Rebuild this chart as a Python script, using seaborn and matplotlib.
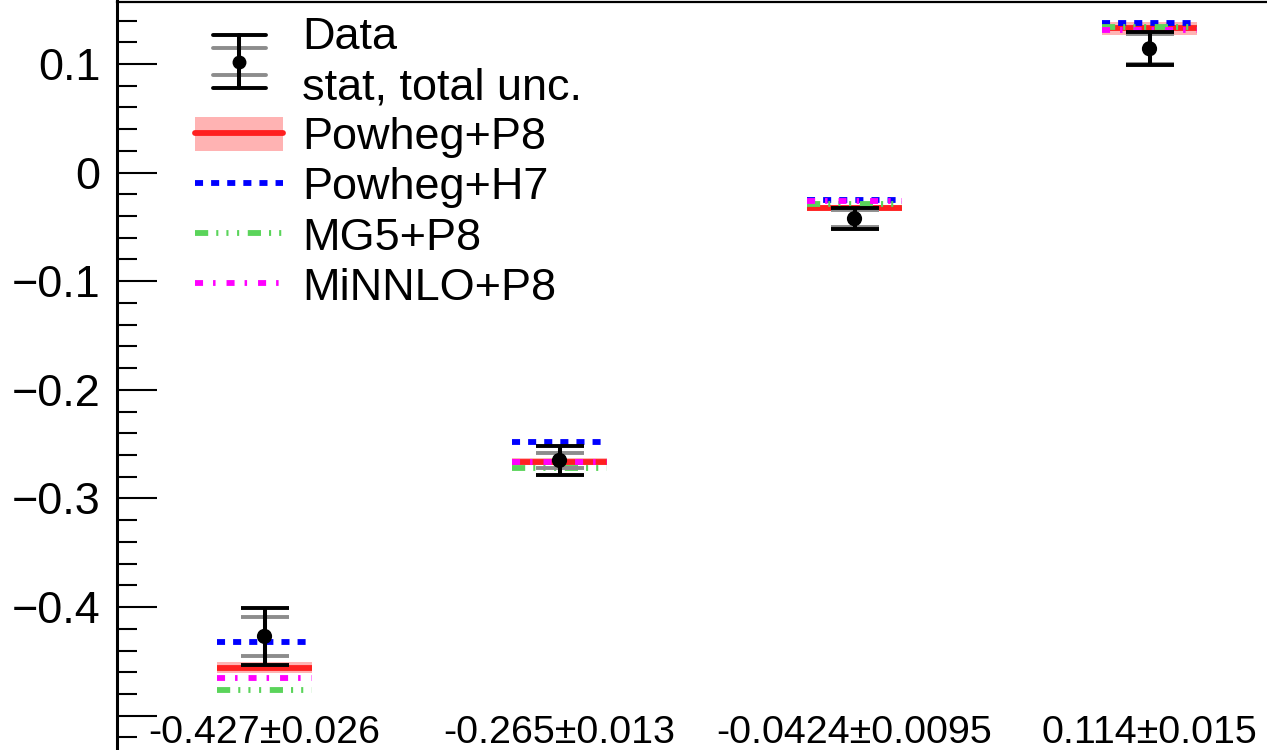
import numpy as np
import pandas as pd
import matplotlib
matplotlib.use("Agg")
import matplotlib.pyplot as plt
import seaborn as sns
from matplotlib.lines import Line2D
from matplotlib.patches import Patch
from matplotlib.legend_handler import HandlerBase
from matplotlib.ticker import FixedLocator

# ---------------- data ----------------
bin_labels = ["-0.427\u00b10.026", "-0.265\u00b10.013", "-0.0424\u00b10.0095", "0.114\u00b10.015"]
data_val = [-0.427, -0.265, -0.0424, 0.114]
data_tot = [0.026, 0.013, 0.0095, 0.015]
data_stat = [0.018, 0.007, 0.008, 0.014]
powheg_p8 = [-0.456, -0.266, -0.0325, 0.133]
powheg_p8_unc = [0.005, 0.003, 0.003, 0.006]
powheg_h7 = [-0.432, -0.248, -0.025, 0.1375]
mg5_p8 = [-0.476, -0.272, -0.0285, 0.134]
minnlo_p8 = [-0.465, -0.266, -0.026, 0.131]
ytick_vals = [-0.5, -0.4, -0.3, -0.2, -0.1, 0.0, 0.1]
ytick_labels = ["", "\u22120.4", "\u22120.3", "\u22120.2", "\u22120.1", "0", "0.1"]
legend_labels = ["Data", "stat, total unc.", "Powheg+P8", "Powheg+H7", "MG5+P8", "MiNNLO+P8"]

# ---------------- style ----------------
sns.set_theme(style="ticks")
plt.rcParams["font.family"] = ["Liberation Sans", "DejaVu Sans"]
plt.rcParams["lines.scale_dashes"] = False
plt.rcParams["text.color"] = "black"
plt.rcParams["xtick.color"] = "black"
plt.rcParams["ytick.color"] = "black"
plt.rcParams["xtick.labelcolor"] = "black"
plt.rcParams["ytick.labelcolor"] = "black"

C_RED = "#ff2020"
C_PINK = "#ffb3b3"
C_BLUE = "#0000ff"
C_GREEN = "#5ad45a"
C_MAG = "#ff00ff"
C_GRAY = "#8c8c8c"
LW = 4.2
DASH_BLUE = (0, (5.8, 5.8))
DASH_GREEN = (0, (9.5, 5.8, 1.5, 5.8, 1.5, 6.2, 1.5, 6.2))
DASH_MAG = (0, (5.8, 7.2, 1.8, 7.9))

fig = plt.figure(figsize=(12.67, 7.5), dpi=100)
fig.patch.set_facecolor("white")
ax = fig.add_axes([117 / 1267, 0, 1180 / 1267, 748.5 / 750])

x = np.arange(len(data_val))
hw = 0.16

# red band + line
ax.bar(x, height=2 * np.array(powheg_p8_unc), bottom=np.array(powheg_p8) - np.array(powheg_p8_unc),
       width=2 * hw, color=C_PINK, linewidth=0, zorder=2)
ax.hlines(powheg_p8, x - hw, x + hw, colors=C_RED, linewidth=LW, zorder=3)
ax.hlines(powheg_h7, x - hw, x + hw, colors=C_BLUE, linewidth=LW, linestyles=[DASH_BLUE], zorder=4)
ax.hlines(mg5_p8, x - hw, x + hw, colors=C_GREEN, linewidth=LW, linestyles=[DASH_GREEN], zorder=4)
ax.hlines(minnlo_p8, x - hw, x + hw, colors=C_MAG, linewidth=LW, linestyles=[DASH_MAG], zorder=4)

# data
ax.errorbar(x, data_val, yerr=data_stat, fmt="none", ecolor=C_GRAY, elinewidth=2.9,
            capsize=17, capthick=2.8, zorder=6)
ax.errorbar(x, data_val, yerr=data_tot, fmt="none", ecolor="black", elinewidth=2.9,
            capsize=17, capthick=2.8, zorder=7)
df = pd.DataFrame({"x": x, "y": data_val})
sns.scatterplot(data=df, x="x", y="y", color="black", s=120, edgecolor="none", ax=ax,
                zorder=8, legend=False)

# axes
ax.set_xlim(-0.5, 3.5)
ax.set_ylim(-0.4 - 143 / 1086.6, 0.1 + 62.5 / 1086.6)
ax.set_xlabel("")
ax.set_ylabel("")
ax.set_xticks(x)
ax.set_xticklabels(bin_labels, fontsize=28.4, color="black")
ax.tick_params(axis="x", length=0, pad=-25.5)
ax.yaxis.set_major_locator(FixedLocator(ytick_vals))
ax.set_yticklabels(ytick_labels, fontsize=32.4, color="black")
ax.yaxis.set_minor_locator(FixedLocator(np.round(np.arange(-26, 8) * 0.02, 3)))
ax.tick_params(axis="y", which="major", direction="in", length=29, width=1.5, pad=12, color="black")
ax.tick_params(axis="y", which="minor", direction="in", length=14.4, width=1.5, color="black", left=True)
ax.spines["left"].set_linewidth(2.2)
ax.spines["top"].set_linewidth(1.6)
ax.spines["bottom"].set_visible(False)
ax.spines["right"].set_visible(False)
for s in ax.spines.values():
    s.set_color("black")


# legend
class DataHandler(HandlerBase):
    """Data glyph (total + stat caps) spanning the 'Data' and 'stat, total unc.' rows."""
    def create_artists(self, legend, orig_handle, xdescent, ydescent, width, height, fontsize, trans):
        cx = -xdescent + width / 2
        cy = -ydescent + height / 2 - 0.63 * fontsize
        ht, hs, cw = 0.59 * fontsize, 0.30 * fontsize, 0.59 * fontsize
        arts = [
            Line2D([cx - cw, cx + cw], [cy + hs] * 2, color=C_GRAY, lw=2.8),
            Line2D([cx - cw, cx + cw], [cy - hs] * 2, color=C_GRAY, lw=2.8),
            Line2D([cx - cw, cx + cw], [cy + ht] * 2, color="black", lw=2.8),
            Line2D([cx - cw, cx + cw], [cy - ht] * 2, color="black", lw=2.8),
            Line2D([cx, cx], [cy - ht, cy + ht], color="black", lw=2.9),
            Line2D([cx], [cy], marker="o", markersize=9, color="black", lw=0),
        ]
        for a in arts:
            a.set_transform(trans)
        return arts


data_handle = Line2D([], [], color="black")
blank_handle = Line2D([], [], linestyle="none")
handles = [
    data_handle,
    blank_handle,
    (Patch(facecolor=C_PINK, edgecolor="none"), Line2D([], [], color=C_RED, lw=LW)),
    Line2D([], [], color=C_BLUE, lw=LW, linestyle=DASH_BLUE),
    Line2D([], [], color=C_GREEN, lw=LW, linestyle=DASH_GREEN),
    Line2D([], [], color=C_MAG, lw=LW, linestyle=DASH_MAG),
]
leg = ax.legend(handles, legend_labels, handler_map={data_handle: DataHandler()},
                loc="upper left", bbox_to_anchor=((195 - 117) / 1180, 0.98),
                frameon=False, fontsize=32.4, borderpad=0, borderaxespad=0,
                handlelength=1.96, handleheight=0.78, handletextpad=0.42,
                labelspacing=0.19, labelcolor="black")
for t in leg.get_texts():
    t.set_color("black")

fig.savefig("out.png", dpi=100, facecolor="white")
